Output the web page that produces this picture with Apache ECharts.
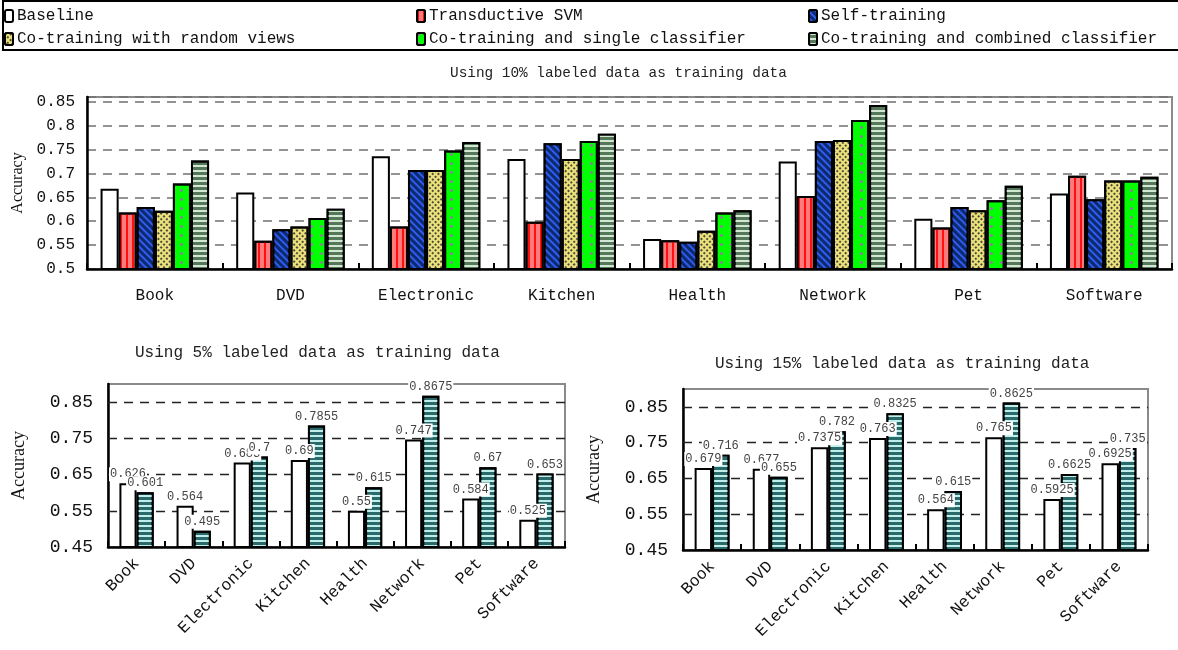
<!DOCTYPE html>
<html>
<head>
<meta charset="utf-8">
<script src="https://cdn.jsdelivr.net/npm/echarts@6/dist/echarts.min.js"></script>
<style>
html,body{margin:0;padding:0;background:#fff;}
#chart{width:1178px;height:650px;}
</style>
</head>
<body>
<div id="chart"></div>
<script>
// ---------- data ----------
const categories = ['Book','DVD','Electronic','Kitchen','Health','Network','Pet','Software'];
const seriesNames = ['Baseline','Transductive SVM','Self-training','Co-training with random views','Co-training and single classifier','Co-training and combined classifier'];

// 10% labeled data (top chart)
const top_baseline = [0.668,0.660,0.736,0.730,0.563,0.725,0.605,0.658];
const top_tsvm     = [0.618,0.559,0.589,0.599,0.560,0.653,0.587,0.695];
const top_self     = [0.630,0.583,0.707,0.763,0.557,0.768,0.630,0.646];
const top_random   = [0.622,0.589,0.707,0.730,0.580,0.770,0.623,0.685];
const top_single   = [0.679,0.607,0.748,0.768,0.618,0.812,0.644,0.685];
const top_combined = [0.727,0.626,0.766,0.783,0.623,0.843,0.674,0.693];

// 5% labeled data (bottom-left)
const p5_baseline = [0.626,0.564,0.683,0.69,0.55,0.747,0.584,0.525];
const p5_combined = [0.601,0.495,0.7,0.7855,0.615,0.8675,0.67,0.653];

// 15% labeled data (bottom-right)
const p15_baseline = [0.679,0.677,0.7375,0.763,0.564,0.765,0.5925,0.6925];
const p15_combined = [0.716,0.655,0.782,0.8325,0.615,0.8625,0.6625,0.735];

const yTicksTop = [0.5,0.55,0.6,0.65,0.7,0.75,0.8,0.85];
const yTicksBottom = [0.45,0.55,0.65,0.75,0.85];

const titles = ['Using 10% labeled data as training data','Using 5% labeled data as training data','Using 15% labeled data as training data'];

// ---------- styles ----------
const MONO = '"Liberation Mono", "DejaVu Sans Mono", monospace';
const SERIF = '"Liberation Serif", "DejaVu Serif", serif';
const styles = [
  {color:'#ffffff'},
  {color:'#ff7a7a', decal:{symbol:'rect', color:'#ff1010', dashArrayX:[2,4], dashArrayY:[1,0], symbolSize:1}},
  {color:'#0d2a6e', decal:{symbol:'rect', color:'#2f5cf0', dashArrayX:[1,0], dashArrayY:[2,3], rotation:Math.PI/4, symbolSize:1}},
  {color:'#ece27c', decal:{symbol:'rect', color:'#4d4b3a', dashArrayX:[2,2], dashArrayY:[2,2], rotation:Math.PI/4, symbolSize:1}},
  {color:'#00ff00', decal:{symbol:'circle', color:'#b25cc6', dashArrayX:[3,7], dashArrayY:[3,6], symbolSize:0.9}},
  {color:'#55775a', decal:{symbol:'rect', color:'#d3e8d3', dashArrayX:[1,0], dashArrayY:[1.5,2.5], symbolSize:1}}
];
const tealStyle = {color:'#2a6a6a', decal:{symbol:'rect', color:'#c0eeea', dashArrayX:[1,0], dashArrayY:[1.5,2.5], symbolSize:1}};

function isTick(v, arr){ return arr.some(t => Math.abs(t - v) < 1e-6); }

const topData = [top_baseline, top_tsvm, top_self, top_random, top_single, top_combined];

const series = [];
topData.forEach((d,i) => {
  series.push({
    name: seriesNames[i], type:'bar', xAxisIndex:0, yAxisIndex:0,
    data: d, barGap:'0%', barCategoryGap:'20%',
    itemStyle: Object.assign({borderColor:'#000', borderWidth:2}, styles[i]),
    emphasis:{disabled:true}
  });
});

function bottomSeries(axisIdx, base, comb){
  const lab = {show:true, position:'top', distance:2, fontFamily:MONO, fontSize:12, color:'#444', backgroundColor:'#fff', padding:[1,1]};
  return [
    {name:'Baseline', type:'bar', xAxisIndex:axisIdx, yAxisIndex:axisIdx, data:base,
     barGap:'0%', barCategoryGap:'40%',
     itemStyle:{color:'#fff', borderColor:'#000', borderWidth:2}, label:lab, emphasis:{disabled:true},
     markLine:{silent:true, symbol:'none', z:1, label:{show:false},
       lineStyle:{color:'#222', type:[9,7], width:1.3},
       data: yTicksBottom.slice(1).map(v => ({yAxis:v}))}},
    {name:'Co-training and combined classifier', type:'bar', xAxisIndex:axisIdx, yAxisIndex:axisIdx, data:comb,
     barGap:'0%', barCategoryGap:'40%',
     itemStyle:Object.assign({borderColor:'#000', borderWidth:2}, tealStyle), label:lab, emphasis:{disabled:true}}
  ];
}
series.push(...bottomSeries(1, p5_baseline, p5_combined));
series.push(...bottomSeries(2, p15_baseline, p15_combined));

const legendPos = [[4,8],[416,8],[808,8],[4,31],[416,31],[808,31]];
const legends = seriesNames.map((n,i) => ({
  data:[n], left:legendPos[i][0], top:legendPos[i][1], padding:0,
  itemWidth:8, itemHeight:12, itemGap:4, selectedMode:false,
  textStyle:{fontFamily:MONO, fontSize:16, color:'#111', padding:[0,0,0,-1]}
}));

function bottomX(){
  return {type:'category', data:categories,
    axisLine:{lineStyle:{color:'#000', width:2.5}},
    axisTick:{show:true, inside:true, length:6, lineStyle:{color:'#000', width:2}},
    axisLabel:{interval:0, rotate:45, margin:14, fontFamily:MONO, fontSize:16.5, color:'#111'}};
}
function bottomY(){
  return {type:'value', min:0.45, max:0.9, interval:0.05,
    name:'Accuracy', nameLocation:'middle', nameGap:80, nameRotate:90,
    nameTextStyle:{fontFamily:SERIF, fontSize:18, color:'#111'},
    axisLine:{show:true, lineStyle:{color:'#000', width:2.5}},
    axisTick:{show:false}, splitLine:{show:false},
    axisLabel:{margin:15, fontFamily:MONO, fontSize:18, color:'#111',
      formatter: v => isTick(v, yTicksBottom) ? String(+v.toFixed(2)) : ''}};
}

const option = {
  animation:false,
  backgroundColor:'#fff',
  title: [
    {text:titles[0], left:450, top:66, padding:0, textStyle:{fontFamily:MONO, fontWeight:'normal', fontSize:14.4, color:'#222'}},
    {text:titles[1], left:135, top:345, padding:0, textStyle:{fontFamily:MONO, fontWeight:'normal', fontSize:16, color:'#222'}},
    {text:titles[2], left:715, top:356, padding:0, textStyle:{fontFamily:MONO, fontWeight:'normal', fontSize:16, color:'#222'}}
  ],
  legend: legends,
  graphic:[{type:'rect', shape:{x:3, y:1, width:1185, height:49}, style:{fill:'none', stroke:'#000', lineWidth:2}, silent:true}],
  grid: [
    {left:87, top:97, width:1085, height:172, show:true, borderColor:'#8a8a8a', borderWidth:2, containLabel:false},
    {left:108, top:384, width:457, height:163, show:true, borderColor:'#8a8a8a', borderWidth:2, containLabel:false},
    {left:683, top:389, width:465, height:161, show:true, borderColor:'#8a8a8a', borderWidth:2, containLabel:false}
  ],
  xAxis: [
    {type:'category', data:categories, gridIndex:0,
     axisLine:{lineStyle:{color:'#000', width:2.5}},
     axisTick:{show:true, inside:true, length:6, lineStyle:{color:'#000', width:2}},
     axisLabel:{interval:0, margin:19, fontFamily:MONO, fontSize:16, color:'#111'}},
    Object.assign(bottomX(), {gridIndex:1}),
    Object.assign(bottomX(), {gridIndex:2})
  ],
  yAxis: [
    {type:'value', gridIndex:0, min:0.5, max:0.86, interval:0.05,
     name:'Accuracy', nameLocation:'middle', nameGap:58, nameRotate:90,
     nameTextStyle:{fontFamily:SERIF, fontSize:16, color:'#111'},
     axisLine:{show:true, lineStyle:{color:'#000', width:2.5}},
     axisTick:{show:false},
     splitLine:{show:true, lineStyle:{color:'#707070', type:[9,7], width:1.6}},
     axisLabel:{margin:12, fontFamily:MONO, fontSize:16, color:'#111',
       formatter: v => isTick(v, yTicksTop) ? String(+v.toFixed(2)) : ''}},
    Object.assign(bottomY(), {gridIndex:1}),
    Object.assign(bottomY(), {gridIndex:2})
  ],
  series: series
};

const chart = echarts.init(document.getElementById('chart'), null, {renderer:'canvas'});
chart.setOption(option);
</script>
</body>
</html>
